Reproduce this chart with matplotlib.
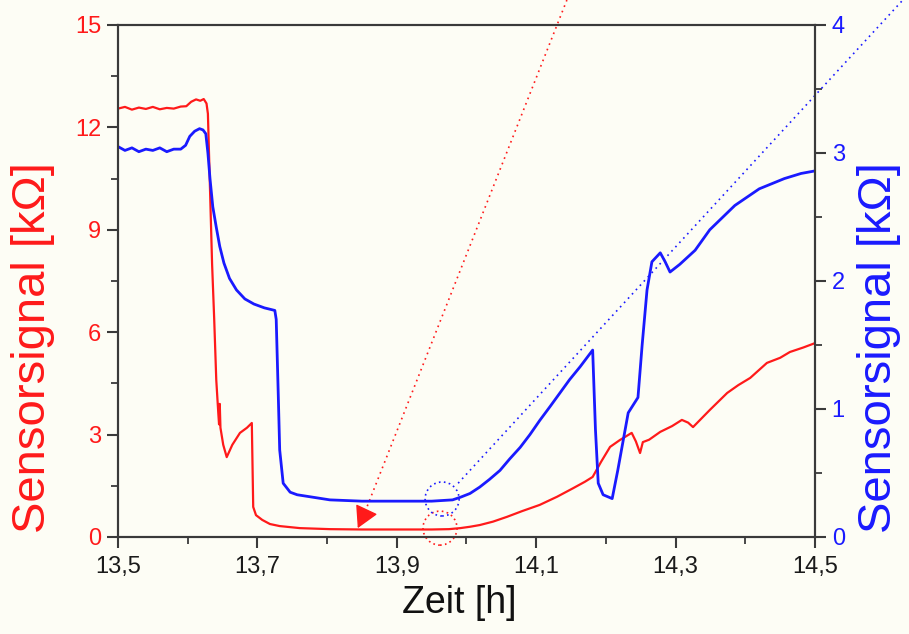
import matplotlib
matplotlib.use('Agg')
import matplotlib.pyplot as plt
from matplotlib.patches import Circle
from matplotlib.ticker import MultipleLocator, FixedLocator
from matplotlib.transforms import ScaledTranslation

plt.rcParams['font.family'] = ['Liberation Sans', 'DejaVu Sans']

# red sensor (left axis, kOhm)
red_t = [13.500, 13.510, 13.520, 13.530, 13.540, 13.550, 13.560, 13.570, 13.580, 13.590,
         13.598, 13.605, 13.612, 13.618, 13.623, 13.627, 13.629, 13.632, 13.635, 13.638,
         13.641, 13.644, 13.645, 13.646, 13.647, 13.651, 13.656, 13.664, 13.675, 13.685,
         13.692, 13.694, 13.698, 13.707, 13.718, 13.732, 13.761, 13.804, 13.850, 13.900,
         13.950, 13.975, 13.991, 14.005, 14.019, 14.038, 14.058, 14.080, 14.105, 14.130,
         14.153, 14.170, 14.181, 14.193, 14.206, 14.220, 14.237, 14.243, 14.249, 14.253,
         14.262, 14.278, 14.295, 14.309, 14.318, 14.325, 14.349, 14.374, 14.390, 14.407,
         14.431, 14.450, 14.464, 14.483, 14.500]
red_v = [12.55, 12.60, 12.52, 12.58, 12.54, 12.60, 12.53, 12.57, 12.55, 12.61,
         12.62, 12.75, 12.82, 12.78, 12.83, 12.70, 12.40, 10.20, 8.00, 6.40,
         4.60, 3.60, 3.30, 3.90, 3.20, 2.70, 2.34, 2.70, 3.05, 3.20,
         3.34, 0.88, 0.64, 0.50, 0.38, 0.32, 0.26, 0.23, 0.22, 0.22,
         0.22, 0.23, 0.26, 0.30, 0.35, 0.45, 0.59, 0.76, 0.94, 1.18,
         1.43, 1.62, 1.76, 2.20, 2.64, 2.84, 3.05, 2.80, 2.46, 2.78,
         2.85, 3.08, 3.25, 3.43, 3.35, 3.22, 3.72, 4.22, 4.45, 4.66,
         5.10, 5.25, 5.42, 5.55, 5.68]

# blue sensor (right axis, kOhm)
blue_t = [13.500, 13.510, 13.520, 13.530, 13.540, 13.550, 13.560, 13.570, 13.580, 13.590,
          13.597, 13.603, 13.610, 13.617, 13.622, 13.626, 13.629, 13.632, 13.636, 13.641,
          13.646, 13.652, 13.660, 13.670, 13.682, 13.695, 13.710, 13.725, 13.727, 13.730,
          13.732, 13.737, 13.747, 13.757, 13.804, 13.850, 13.900, 13.950, 13.980, 13.991,
          14.005, 14.019, 14.033, 14.048, 14.062, 14.077, 14.091, 14.105, 14.120, 14.134,
          14.148, 14.163, 14.181, 14.185, 14.189, 14.196, 14.209, 14.217, 14.232, 14.246,
          14.252, 14.259, 14.266, 14.278, 14.285, 14.292, 14.306, 14.328, 14.349, 14.385,
          14.420, 14.456, 14.480, 14.500]
blue_v = [3.05, 3.02, 3.04, 3.01, 3.03, 3.02, 3.04, 3.01, 3.03, 3.03,
          3.06, 3.13, 3.17, 3.19, 3.18, 3.15, 3.00, 2.80, 2.58, 2.42,
          2.27, 2.14, 2.02, 1.93, 1.86, 1.82, 1.79, 1.77, 1.70, 1.10,
          0.68, 0.42, 0.35, 0.33, 0.29, 0.28, 0.28, 0.28, 0.29, 0.31,
          0.34, 0.39, 0.45, 0.52, 0.61, 0.70, 0.80, 0.91, 1.02, 1.125,
          1.23, 1.33, 1.46, 0.84, 0.42, 0.33, 0.30, 0.52, 0.97, 1.09,
          1.50, 1.93, 2.15, 2.22, 2.15, 2.07, 2.13, 2.24, 2.40, 2.59,
          2.72, 2.80, 2.84, 2.86]

x_ticks = [13.5, 13.7, 13.9, 14.1, 14.3, 14.5]
x_labels = ['13,5', '13,7', '13,9', '14,1', '14,3', '14,5']

# annotations: arrow tip / dotted guides / circles
red_arrow_tip = (13.844, 0.26)
red_guide_t = [13.8515, 14.144]
red_guide_v = [0.586, 15.73]
blue_guide_t = [13.988, 14.626]
blue_guide_v = [0.42, 4.195]
red_circle = (13.962, 0.26)
blue_circle = (13.965, 0.297)

RED = '#FF1A1A'
BLUE = '#1A1AFF'
BG = '#FDFDF5'

fig = plt.figure(figsize=(9.09, 6.34), dpi=100, facecolor=BG)
ax = fig.add_axes([0.1298, 0.153, 0.7668, 0.8076])
ax.set_facecolor(BG)
ax2 = ax.twinx()

ax.plot(red_t, red_v, color=RED, lw=1.6)
ax2.plot(blue_t, blue_v, color=BLUE, lw=2.0)

ax.set_xlim(13.5, 14.5)
ax.set_ylim(0, 15)
ax2.set_ylim(0, 4)

ax.xaxis.set_major_locator(FixedLocator(x_ticks))
ax.set_xticklabels(x_labels)
ax.xaxis.set_minor_locator(MultipleLocator(0.1))
ax.yaxis.set_major_locator(MultipleLocator(3))
ax.yaxis.set_minor_locator(MultipleLocator(1.5))
ax2.yaxis.set_major_locator(MultipleLocator(1))
ax2.yaxis.set_minor_locator(MultipleLocator(0.5))

for a in (ax, ax2):
    for s in a.spines.values():
        s.set_color('#3a3a3a')
        s.set_linewidth(1.5)
    a.tick_params(which='major', length=8, width=1.5, color='#3a3a3a', labelsize=17, direction='out')
    a.tick_params(which='minor', length=5, width=1.3, color='#3a3a3a', direction='out')

ax.tick_params(axis='y', labelcolor=RED, pad=4)
ax2.tick_params(axis='y', labelcolor=BLUE, pad=4)
ax.tick_params(axis='x', labelcolor='#1a1a1a', pad=6)

ax.set_xlabel('Zeit [h]', fontsize=27, color='#111111')
ax.xaxis.set_label_coords(0.49, -0.093)
ax.set_ylabel('Sensorsignal [kΩ]', fontsize=34, color=RED)
ax.yaxis.set_label_coords(-0.090, 0.37)
ax2.set_ylabel('Sensorsignal [kΩ]', fontsize=34, color=BLUE, rotation=90)
ax2.yaxis.set_label_coords(1.060, 0.37)

# dotted guides
ax.plot(red_guide_t, red_guide_v, color=RED, lw=1.2, ls=(0, (1, 2.5)), clip_on=False)
ax2.plot(blue_guide_t, blue_guide_v, color=BLUE, lw=1.2, ls=(0, (1, 2.5)), clip_on=False)
ax.annotate('', xy=red_arrow_tip, xytext=(red_guide_t[0], red_guide_v[0]),
            arrowprops=dict(arrowstyle='-|>,head_length=0.45,head_width=0.25',
                            color=RED, lw=1, shrinkA=0, shrinkB=0, mutation_scale=30))

for a, c, col in ((ax, red_circle, RED), (ax2, blue_circle, BLUE)):
    circ = Circle((0, 0), radius=0.17, fill=False, edgecolor=col, lw=1.2, ls=(0, (1, 2)),
                  transform=fig.dpi_scale_trans + ScaledTranslation(c[0], c[1], a.transData),
                  clip_on=False)
    a.add_patch(circ)

fig.savefig('out.png', dpi=100, facecolor=BG)
